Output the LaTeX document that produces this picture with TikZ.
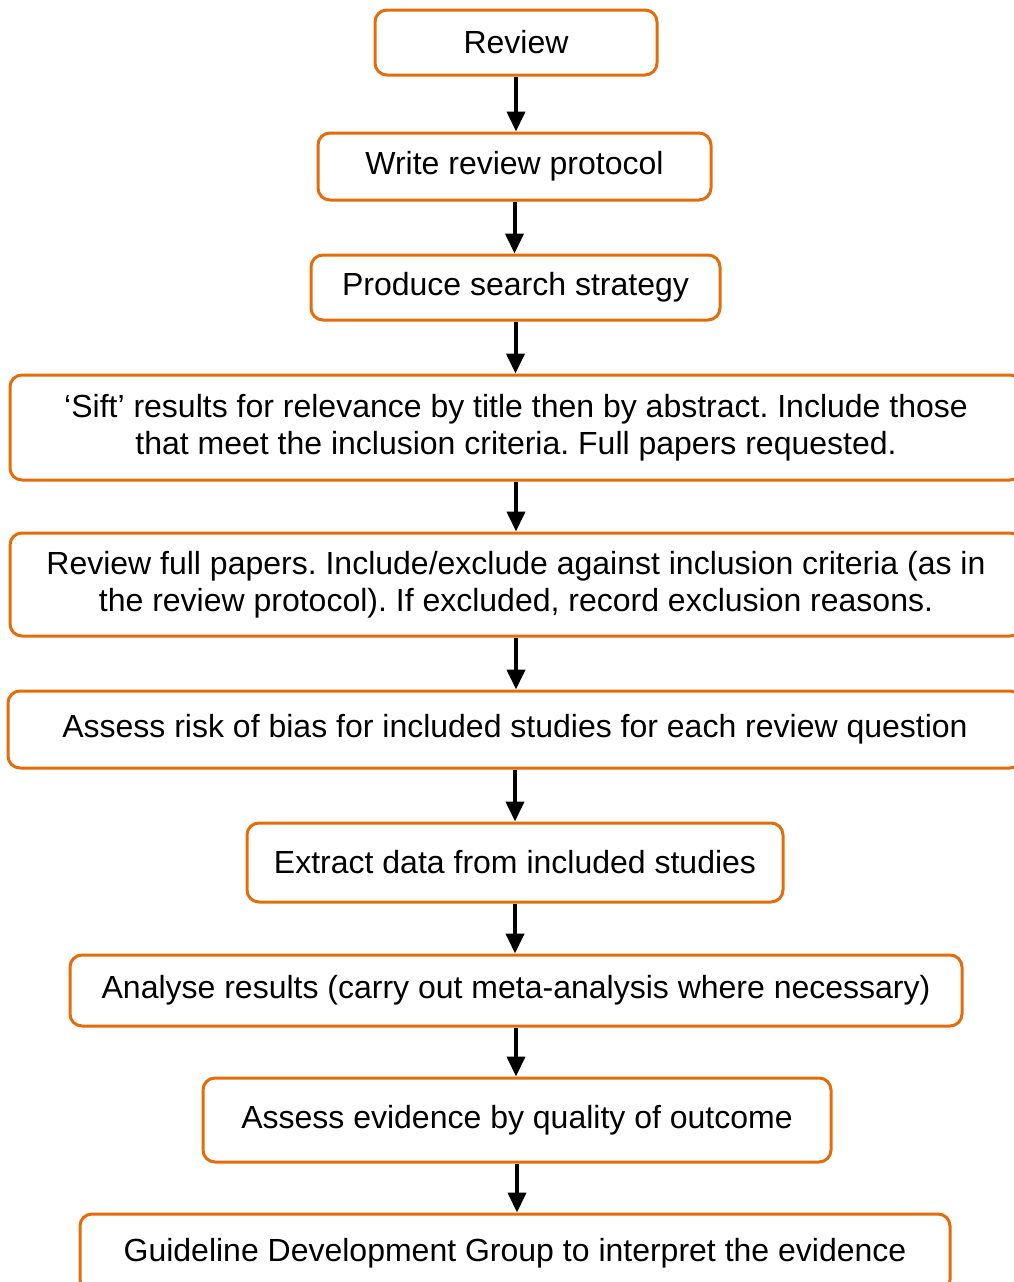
\documentclass[tikz,border=0pt]{standalone}
\usepackage{fontspec}
\setmainfont{Liberation Sans}
\usetikzlibrary{arrows.meta}
\definecolor{boxorange}{HTML}{E46C0A}
\frenchspacing

\begin{document}
\begin{tikzpicture}[x=1pt, y=1pt,
	stepbox/.style={rectangle, rounded corners=12pt, draw=boxorange, line width=3pt, fill=white,
		inner sep=0pt, align=center, font=\fontsize{32}{37}\selectfont},
	flow/.style={line width=4pt, color=black, -{Triangle[length=20pt, width=18pt]}}]
	\clip (0, 0) rectangle (1014, -1282);
	\fill[white] (0, 0) rectangle (1014, -1282);

	\node[stepbox, minimum width=282pt, minimum height=65pt] (review) at (516, -42.5) {Review};
	\node[stepbox, minimum width=393pt, minimum height=67pt] (protocol) at (514.5, -166.5) {Write review protocol};
	\node[stepbox, minimum width=409pt, minimum height=65pt] (search) at (515.5, -287.5) {Produce search strategy};
	\node[stepbox, minimum width=1012pt, minimum height=105pt] (sift) at (516, -427.5) {`Sift' results for relevance by title then by abstract. Include those\\that meet the inclusion criteria. Full papers requested.};
	\node[stepbox, minimum width=1012pt, minimum height=103pt] (papers) at (516, -584.5) {Review full papers. Include/exclude against inclusion criteria (as in\\the review protocol). If excluded, record exclusion reasons.};
	\node[stepbox, minimum width=1014pt, minimum height=77pt] (bias) at (515, -729.5) {Assess risk of bias for included studies for each review question};
	\node[stepbox, minimum width=536pt, minimum height=79pt] (extract) at (515, -862.5) {Extract data from included studies};
	\node[stepbox, minimum width=892pt, minimum height=71pt] (analyse) at (516, -990.5) {Analyse results (carry out meta-analysis where necessary)};
	\node[stepbox, minimum width=628pt, minimum height=84pt] (quality) at (517, -1120) {Assess evidence by quality of outcome};
	\node[stepbox, minimum width=870pt, minimum height=78pt] (gdg) at (515, -1253) {Guideline Development Group to interpret the evidence};

	% Draw the arrows between the steps
	\draw[flow] (review.south) -- (review.south |- protocol.north);
	\draw[flow] (protocol.south) -- (protocol.south |- search.north);
	\draw[flow] (search.south) -- (search.south |- sift.north);
	\draw[flow] (sift.south) -- (sift.south |- papers.north);
	\draw[flow] (papers.south) -- (papers.south |- bias.north);
	\draw[flow] (bias.south) -- (bias.south |- extract.north);
	\draw[flow] (extract.south) -- (extract.south |- analyse.north);
	\draw[flow] (analyse.south) -- (analyse.south |- quality.north);
	\draw[flow] (quality.south) -- (quality.south |- gdg.north);
\end{tikzpicture}
\end{document}
